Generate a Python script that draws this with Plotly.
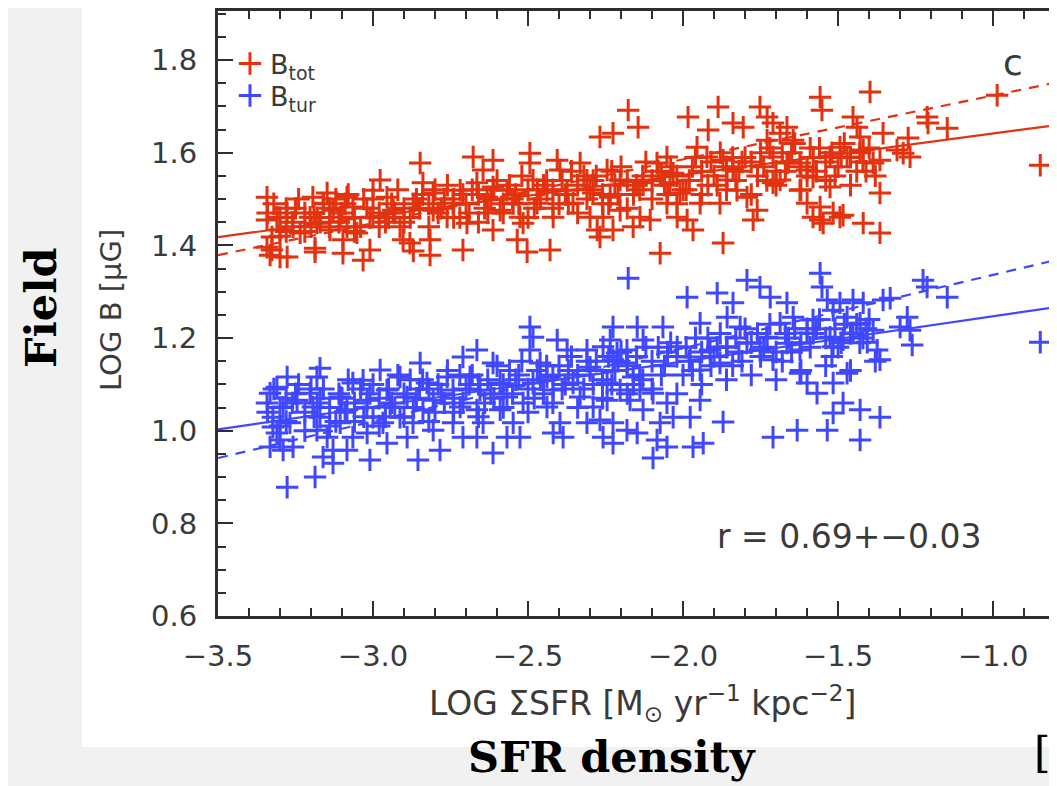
import plotly.graph_objects as go

# ---------------- data ----------------
red_points = [
    (-3.342, 1.504), (-3.310, 1.461), (-3.342, 1.455), (-3.277, 1.470), (-3.258, 1.440),
    (-3.326, 1.418), (-3.300, 1.433), (-3.326, 1.390), (-3.300, 1.375), (-3.277, 1.375),
    (-3.342, 1.396), (-3.194, 1.504), (-3.161, 1.491), (-3.203, 1.461), (-3.181, 1.448),
    (-3.129, 1.476), (-3.106, 1.461), (-3.084, 1.504), (-3.065, 1.483), (-3.148, 1.513),
    (-3.235, 1.427), (-3.187, 1.394), (-3.139, 1.433), (-3.097, 1.412), (-3.084, 1.440),
    (-3.032, 1.368), (-3.010, 1.390), (-3.052, 1.427), (-3.000, 1.519), (-2.977, 1.541),
    (-2.955, 1.504), (-2.935, 1.476), (-3.000, 1.461), (-2.913, 1.440), (-2.903, 1.412),
    (-2.881, 1.405), (-2.848, 1.578), (-2.839, 1.535), (-2.806, 1.513), (-2.806, 1.476),
    (-2.816, 1.412), (-2.761, 1.461), (-2.719, 1.519), (-2.742, 1.491), (-2.710, 1.390),
    (-2.697, 1.448), (-2.677, 1.591), (-2.645, 1.563), (-2.665, 1.535), (-2.632, 1.504),
    (-2.613, 1.526), (-2.590, 1.476), (-2.613, 1.433), (-2.613, 1.584), (-2.568, 1.519),
    (-2.548, 1.491), (-2.526, 1.461), (-2.535, 1.412), (-2.494, 1.599), (-2.494, 1.578),
    (-2.484, 1.541), (-2.516, 1.448), (-2.471, 1.491), (-2.439, 1.519), (-2.429, 1.390),
    (-2.419, 1.461), (-2.406, 1.584), (-2.397, 1.563), (-2.374, 1.519), (-2.355, 1.491),
    (-2.332, 1.578), (-2.310, 1.541), (-2.290, 1.513), (-2.300, 1.461), (-2.277, 1.433),
    (-3.332, 1.379), (-3.187, 1.386), (-3.097, 1.383), (-2.870, 1.388), (-2.816, 1.379),
    (-2.503, 1.386),
    (-2.268, 1.634), (-2.226, 1.642), (-2.177, 1.692), (-2.145, 1.655), (-2.245, 1.563),
    (-2.203, 1.541), (-2.235, 1.504), (-2.258, 1.461), (-2.203, 1.476), (-2.226, 1.433),
    (-2.268, 1.418), (-2.139, 1.461), (-2.161, 1.440), (-2.106, 1.455), (-2.074, 1.383),
    (-2.129, 1.535), (-2.084, 1.578), (-2.052, 1.591), (-2.032, 1.556), (-2.042, 1.535),
    (-2.010, 1.513), (-2.052, 1.491), (-2.019, 1.461), (-1.987, 1.455), (-1.968, 1.433),
    (-1.945, 1.491), (-1.984, 1.677), (-1.919, 1.649), (-1.887, 1.699), (-1.955, 1.612),
    (-1.923, 1.591), (-1.871, 1.584), (-1.839, 1.563), (-1.839, 1.664), (-1.806, 1.655),
    (-1.858, 1.541), (-1.881, 1.491), (-1.826, 1.519), (-1.794, 1.504), (-1.761, 1.476),
    (-1.774, 1.455), (-1.871, 1.405), (-1.752, 1.699), (-1.729, 1.677), (-1.710, 1.664),
    (-1.687, 1.642), (-1.665, 1.655), (-1.645, 1.627), (-1.729, 1.627), (-1.710, 1.591),
    (-1.665, 1.578), (-1.687, 1.541), (-1.710, 1.535), (-1.623, 1.578), (-1.600, 1.563),
    (-1.623, 1.519), (-1.581, 1.547), (-1.600, 1.491), (-1.581, 1.461), (-1.558, 1.483),
    (-1.558, 1.455), (-1.526, 1.526), (-1.494, 1.461), (-1.548, 1.448), (-1.516, 1.470),
    (-1.484, 1.465), (-1.558, 1.720), (-1.552, 1.692), (-1.526, 1.591), (-1.494, 1.612),
    (-1.471, 1.591), (-1.452, 1.677), (-1.439, 1.655), (-1.429, 1.634), (-1.419, 1.606),
    (-1.419, 1.448), (-1.397, 1.731), (-1.387, 1.578), (-1.365, 1.584), (-1.355, 1.642),
    (-1.365, 1.513), (-1.365, 1.427), (-1.310, 1.606), (-1.290, 1.599), (-1.274, 1.632),
    (-1.268, 1.591), (-1.213, 1.677), (-1.210, 1.664), (-1.148, 1.653), (-0.987, 1.724),
    (-0.848, 1.573),
    (-3.30, 1.46), (-3.26, 1.45), (-3.22, 1.47), (-3.18, 1.46), (-3.14, 1.48), (-3.10, 1.47),
    (-3.06, 1.46), (-3.02, 1.48), (-2.98, 1.47), (-2.94, 1.49), (-2.90, 1.48), (-2.86, 1.50),
    (-2.82, 1.49), (-2.78, 1.48), (-2.74, 1.50), (-2.70, 1.49), (-2.66, 1.51), (-2.62, 1.50),
    (-2.58, 1.49), (-2.54, 1.51), (-2.50, 1.52), (-2.46, 1.50), (-2.42, 1.52), (-2.38, 1.51),
    (-2.34, 1.53), (-2.30, 1.52), (-2.26, 1.51), (-2.22, 1.53), (-2.18, 1.54), (-2.14, 1.52),
    (-2.10, 1.54), (-2.06, 1.53), (-2.02, 1.55), (-1.98, 1.54), (-1.94, 1.56), (-1.90, 1.55),
    (-1.86, 1.57), (-1.82, 1.56), (-1.78, 1.58), (-1.74, 1.57), (-1.70, 1.56), (-1.66, 1.58),
    (-1.62, 1.57), (-1.58, 1.59), (-1.54, 1.58), (-1.50, 1.57), (-1.46, 1.59), (-1.42, 1.58),
    (-3.28, 1.43), (-3.20, 1.44), (-3.12, 1.50), (-3.04, 1.44), (-2.96, 1.45), (-2.88, 1.46),
    (-2.80, 1.52), (-2.72, 1.46), (-2.64, 1.48), (-2.56, 1.53), (-2.48, 1.48), (-2.40, 1.49),
    (-2.32, 1.55), (-2.24, 1.49), (-2.16, 1.51), (-2.08, 1.56), (-2.00, 1.52), (-1.92, 1.53),
    (-1.84, 1.59), (-1.76, 1.55), (-1.68, 1.60), (-1.60, 1.55), (-1.52, 1.60), (-1.44, 1.56),
    (-3.32, 1.49), (-3.24, 1.50), (-3.16, 1.49), (-3.08, 1.51), (-3.00, 1.50), (-2.92, 1.52),
    (-2.84, 1.51), (-2.76, 1.53), (-2.68, 1.52), (-2.60, 1.54), (-2.52, 1.55), (-2.44, 1.54),
    (-2.36, 1.56), (-2.28, 1.55), (-2.20, 1.57), (-2.12, 1.58), (-2.04, 1.57), (-1.96, 1.59),
    (-1.88, 1.60), (-1.80, 1.59), (-1.72, 1.61), (-1.64, 1.62), (-1.56, 1.61), (-1.48, 1.62),
    (-1.40, 1.61),
    (-3.30, 1.42), (-3.22, 1.43), (-3.14, 1.44), (-3.06, 1.43), (-2.98, 1.44), (-2.90, 1.45),
    (-2.82, 1.44), (-2.74, 1.46), (-2.66, 1.45), (-2.58, 1.47), (-2.50, 1.46), (-2.42, 1.48),
    (-2.34, 1.47), (-2.26, 1.49), (-2.18, 1.48), (-2.10, 1.50), (-2.02, 1.49), (-1.94, 1.51),
    (-1.86, 1.52), (-1.78, 1.51), (-1.70, 1.53), (-1.62, 1.52), (-1.54, 1.54), (-1.46, 1.53),
    (-1.38, 1.55),
    (-3.34, 1.47), (-3.25, 1.48), (-3.17, 1.45), (-3.09, 1.49), (-3.01, 1.46), (-2.93, 1.47),
    (-2.85, 1.48), (-2.77, 1.50), (-2.69, 1.47), (-2.61, 1.52), (-2.53, 1.49), (-2.45, 1.53),
    (-2.37, 1.49), (-2.29, 1.54), (-2.21, 1.51), (-2.13, 1.55), (-2.05, 1.51), (-1.97, 1.57),
    (-1.89, 1.53), (-1.81, 1.58), (-1.73, 1.54), (-1.65, 1.60), (-1.57, 1.56), (-1.49, 1.59),
    (-1.41, 1.56),
    (-3.28, 1.48), (-3.19, 1.47), (-3.11, 1.45), (-3.03, 1.50), (-2.95, 1.46), (-2.87, 1.49),
    (-2.79, 1.47), (-2.71, 1.51), (-2.63, 1.47), (-2.55, 1.50), (-2.47, 1.52), (-2.39, 1.54),
    (-2.31, 1.50), (-2.23, 1.56), (-2.15, 1.53), (-2.07, 1.55), (-1.99, 1.52), (-1.91, 1.58),
    (-1.83, 1.54), (-1.75, 1.60), (-1.67, 1.56), (-1.59, 1.61), (-1.51, 1.55), (-1.43, 1.60),
]

blue_points = [
    (-3.332, 1.081), (-3.310, 1.094), (-3.277, 1.116), (-3.342, 1.060), (-3.323, 1.029),
    (-3.290, 1.051), (-3.245, 1.066), (-3.268, 1.017), (-3.323, 1.008), (-3.300, 0.980),
    (-3.332, 0.965), (-3.290, 0.958), (-3.258, 0.965), (-3.310, 0.995), (-3.277, 0.878),
    (-3.187, 0.900), (-3.181, 1.116), (-3.171, 1.135), (-3.203, 1.081), (-3.194, 1.051),
    (-3.171, 1.029), (-3.181, 1.001), (-3.148, 0.986), (-3.129, 0.958), (-3.161, 0.943),
    (-3.129, 0.930), (-3.106, 1.073), (-3.084, 1.045), (-3.065, 1.103), (-3.106, 1.017),
    (-3.065, 0.986), (-3.084, 0.958), (-3.032, 1.109), (-3.019, 1.066), (-3.000, 1.029),
    (-3.019, 0.995), (-3.010, 0.937), (-2.977, 1.131), (-2.955, 1.088), (-2.945, 1.051),
    (-2.968, 1.017), (-2.955, 0.973), (-2.913, 1.116), (-2.890, 1.073), (-2.913, 1.029),
    (-2.871, 1.017), (-2.890, 0.986), (-2.855, 0.937), (-2.848, 1.146), (-2.826, 1.103),
    (-2.806, 1.066), (-2.839, 1.045), (-2.806, 1.001), (-2.784, 0.958), (-2.761, 1.116),
    (-2.742, 1.088), (-2.719, 1.051), (-2.742, 1.017), (-2.710, 0.986), (-2.710, 1.159),
    (-2.665, 1.174), (-2.687, 1.116), (-2.655, 1.088), (-2.665, 1.045), (-2.645, 1.017),
    (-2.665, 0.986), (-2.613, 0.952), (-2.613, 1.146), (-2.590, 1.103), (-2.568, 1.073),
    (-2.590, 1.045), (-2.548, 1.017), (-2.568, 0.986), (-2.526, 0.986), (-2.516, 1.060),
    (-2.494, 1.224), (-2.484, 1.202), (-2.494, 1.174), (-2.461, 1.146), (-2.484, 1.103),
    (-2.439, 1.116), (-2.419, 1.088), (-2.439, 1.051), (-2.406, 1.196), (-2.374, 1.174),
    (-2.397, 1.017), (-2.419, 0.995), (-2.387, 0.986), (-2.355, 1.103), (-2.332, 1.073),
    (-2.310, 1.174), (-2.300, 1.137), (-2.290, 1.051), (-2.310, 1.017), (-2.268, 1.023),
    (-2.258, 0.986), (-2.226, 0.973), (-2.235, 1.196), (-2.226, 1.224), (-2.148, 1.224),
    (-2.213, 1.168), (-2.181, 1.146), (-2.161, 1.116), (-2.139, 1.088), (-2.171, 1.066),
    (-2.129, 1.045), (-2.148, 0.995), (-2.177, 1.329),
    (-2.258, 1.181), (-2.226, 1.153), (-2.181, 1.174), (-2.129, 1.196), (-2.245, 1.103),
    (-2.203, 1.088), (-2.245, 1.066), (-2.226, 1.017), (-2.181, 1.001), (-2.097, 1.081),
    (-2.052, 1.060), (-2.032, 1.029), (-2.074, 1.017), (-2.084, 0.980), (-2.052, 0.965),
    (-2.097, 0.941), (-1.968, 0.965), (-1.935, 0.973), (-1.871, 1.019), (-1.977, 1.029),
    (-1.945, 1.066), (-2.065, 1.224), (-1.987, 1.288), (-1.890, 1.297), (-1.945, 1.232),
    (-2.019, 1.181), (-1.977, 1.159), (-1.913, 1.174), (-1.881, 1.146), (-1.945, 1.131),
    (-1.858, 1.181), (-1.839, 1.276), (-1.858, 1.245), (-1.816, 1.224), (-1.794, 1.325),
    (-1.752, 1.310), (-1.719, 1.288), (-1.794, 1.189), (-1.752, 1.174), (-1.729, 1.202),
    (-1.687, 1.232), (-1.710, 1.153), (-1.665, 1.276), (-1.645, 1.245), (-1.665, 1.189),
    (-1.623, 1.174), (-1.600, 1.211), (-1.581, 1.239), (-1.558, 1.340), (-1.552, 1.310),
    (-1.535, 1.282), (-1.516, 1.260), (-1.494, 1.276), (-1.471, 1.245), (-1.526, 1.202),
    (-1.484, 1.196), (-1.516, 1.181), (-1.623, 1.124), (-1.600, 1.103), (-1.568, 1.081),
    (-1.516, 1.103), (-1.471, 1.124), (-1.484, 1.060), (-1.516, 1.038), (-1.535, 1.001),
    (-1.429, 1.045), (-1.365, 1.029), (-1.429, 0.980), (-1.452, 1.282), (-1.419, 1.276),
    (-1.355, 1.282), (-1.332, 1.286), (-1.429, 1.232), (-1.387, 1.217), (-1.374, 1.174),
    (-1.365, 1.153), (-1.452, 1.211), (-1.406, 1.191), (-1.300, 1.224), (-1.277, 1.245),
    (-1.268, 1.217), (-1.261, 1.185), (-1.226, 1.325), (-1.213, 1.310), (-1.148, 1.288),
    (-0.848, 1.191), (-1.710, 0.986), (-1.632, 1.001),
    (-3.30, 1.05), (-3.26, 1.06), (-3.22, 1.04), (-3.18, 1.06), (-3.14, 1.05), (-3.10, 1.07),
    (-3.06, 1.06), (-3.02, 1.05), (-2.98, 1.07), (-2.94, 1.06), (-2.90, 1.08), (-2.86, 1.07),
    (-2.82, 1.09), (-2.78, 1.08), (-2.74, 1.07), (-2.70, 1.09), (-2.66, 1.10), (-2.62, 1.08),
    (-2.58, 1.10), (-2.54, 1.11), (-2.50, 1.09), (-2.46, 1.11), (-2.42, 1.12), (-2.38, 1.10),
    (-2.34, 1.12), (-2.30, 1.13), (-2.26, 1.11), (-2.22, 1.13), (-2.18, 1.14), (-2.14, 1.12),
    (-2.10, 1.15), (-2.06, 1.14), (-2.02, 1.16), (-1.98, 1.15), (-1.94, 1.17), (-1.90, 1.16),
    (-1.86, 1.18), (-1.82, 1.17), (-1.78, 1.19), (-1.74, 1.18), (-1.70, 1.17), (-1.66, 1.20),
    (-1.62, 1.19), (-1.58, 1.21), (-1.54, 1.20), (-1.50, 1.18), (-1.46, 1.21), (-1.42, 1.20),
    (-3.28, 1.02), (-3.20, 1.09), (-3.12, 1.02), (-3.04, 1.09), (-2.96, 1.03), (-2.88, 1.11),
    (-2.80, 1.04), (-2.72, 1.12), (-2.64, 1.06), (-2.56, 1.13), (-2.48, 1.07), (-2.40, 1.14),
    (-2.32, 1.09), (-2.24, 1.16), (-2.16, 1.10), (-2.08, 1.18), (-2.00, 1.12), (-1.92, 1.20),
    (-1.84, 1.14), (-1.76, 1.21), (-1.68, 1.15), (-1.60, 1.22), (-1.52, 1.16), (-1.44, 1.23),
    (-3.32, 1.09), (-3.24, 1.10), (-3.16, 1.09), (-3.08, 1.11), (-3.00, 1.10), (-2.92, 1.12),
    (-2.84, 1.11), (-2.76, 1.13), (-2.68, 1.12), (-2.60, 1.14), (-2.52, 1.15), (-2.44, 1.14),
    (-2.36, 1.16), (-2.28, 1.15), (-2.20, 1.17), (-2.12, 1.18), (-2.04, 1.19), (-1.96, 1.20),
    (-1.88, 1.21), (-1.80, 1.22), (-1.72, 1.23), (-1.64, 1.22), (-1.56, 1.24), (-1.48, 1.23),
    (-1.40, 1.24),
    (-3.30, 1.01), (-3.22, 1.00), (-3.14, 1.01), (-3.06, 1.02), (-2.98, 1.01), (-2.90, 1.03),
    (-2.82, 1.02), (-2.74, 1.04), (-2.66, 1.03), (-2.58, 1.05), (-2.50, 1.04), (-2.42, 1.06),
    (-2.34, 1.05), (-2.26, 1.07), (-2.18, 1.08), (-2.10, 1.09), (-2.02, 1.08), (-1.94, 1.10),
    (-1.86, 1.11), (-1.78, 1.12), (-1.70, 1.11), (-1.62, 1.13), (-1.54, 1.14), (-1.46, 1.13),
    (-1.38, 1.15),
    (-3.34, 1.04), (-3.25, 1.08), (-3.17, 1.07), (-3.09, 1.04), (-3.01, 1.08), (-2.93, 1.05),
    (-2.85, 1.09), (-2.77, 1.06), (-2.69, 1.10), (-2.61, 1.07), (-2.53, 1.12), (-2.45, 1.08),
    (-2.37, 1.13), (-2.29, 1.10), (-2.21, 1.15), (-2.13, 1.11), (-2.05, 1.17), (-1.97, 1.13),
    (-1.89, 1.18), (-1.81, 1.15), (-1.73, 1.20), (-1.65, 1.17), (-1.57, 1.22), (-1.49, 1.19),
    (-1.41, 1.22),
    (-3.28, 1.07), (-3.19, 1.03), (-3.11, 1.08), (-3.03, 1.03), (-2.95, 1.09), (-2.87, 1.05),
    (-2.79, 1.10), (-2.71, 1.06), (-2.63, 1.11), (-2.55, 1.08), (-2.47, 1.13), (-2.39, 1.09),
    (-2.31, 1.15), (-2.23, 1.10), (-2.15, 1.16), (-2.07, 1.12), (-1.99, 1.18), (-1.91, 1.14),
    (-1.83, 1.20), (-1.75, 1.16), (-1.67, 1.21), (-1.59, 1.18), (-1.51, 1.22), (-1.43, 1.19),
]

# regression lines (end points read at the axis edges)
fit_x = [-3.5, -0.794]
red_fit_solid = [1.418, 1.660]
red_fit_dashed = [1.379, 1.752]
blue_fit_solid = [1.003, 1.267]
blue_fit_dashed = [0.941, 1.369]

x_range = [-3.5, -0.794]
y_range = [0.6, 1.906]

series_names = ["B<sub>tot</sub>", "B<sub>tur</sub>"]
corr_text = "r = 0.69+−0.03"

# ---------------- styling ----------------
RED = "#e2320f"
BLUE = "#3f48ff"
AX = "#2e2e2e"
TXT = "#3a3a3a"

OFF = 8                      # page body margin of the browser
W, H = 1057 - OFF, 786 - OFF
ML, MR, MT = 218 - OFF, 0, 11 - OFF
MB = H - (616 - OFF)
PW = W - ML - MR
PH = H - MT - MB


def pxx(p):
    """page pixel x -> paper x"""
    return (p - OFF - ML) / PW


def pxy(p):
    """page pixel y -> paper y"""
    return (H - MB - (p - OFF)) / PH


red_x = [p[0] for p in red_points]
red_y = [p[1] for p in red_points]
blue_x = [p[0] for p in blue_points]
blue_y = [p[1] for p in blue_points]

fig = go.Figure()

for ys, col, dash in [
    (red_fit_solid, RED, "solid"),
    (red_fit_dashed, RED, "10px,8px"),
    (blue_fit_solid, BLUE, "solid"),
    (blue_fit_dashed, BLUE, "10px,8px"),
]:
    fig.add_trace(go.Scatter(x=fit_x, y=ys, mode="lines",
                             line=dict(color=col, width=2.2, dash=dash),
                             showlegend=False, hoverinfo="skip"))

fig.add_trace(go.Scatter(
    x=red_x, y=red_y, mode="markers", name=series_names[0], legend="legend",
    marker=dict(symbol="cross-thin", size=16, color=RED, line=dict(color=RED, width=3))))
fig.add_trace(go.Scatter(
    x=blue_x, y=blue_y, mode="markers", name=series_names[1], legend="legend2",
    marker=dict(symbol="cross-thin", size=16, color=BLUE, line=dict(color=BLUE, width=3))))

tick_font = dict(family="DejaVu Sans", size=29, color=TXT)

fig.update_layout(
    width=W, height=H,
    margin=dict(l=ML, r=MR, t=MT, b=MB, pad=0),
    paper_bgcolor="#f1f1f1",
    plot_bgcolor="white",
    xaxis=dict(
        range=x_range, tickmode="linear", tick0=-3.5, dtick=0.5, tickformat=".1f",
        ticks="inside", ticklen=15, tickwidth=2, tickcolor=AX,
        showline=True, linewidth=3, linecolor=AX, mirror="ticks",
        showgrid=False, zeroline=False, tickfont=tick_font, ticklabelstandoff=12,
        minor=dict(tick0=-3.5, dtick=0.1, ticks="inside", ticklen=8, tickwidth=2,
                   tickcolor=AX, showgrid=False),
    ),
    yaxis=dict(
        range=y_range, tickmode="linear", tick0=0.6, dtick=0.2, tickformat=".1f",
        ticks="inside", ticklen=15, tickwidth=2, tickcolor=AX,
        showline=True, linewidth=3, linecolor=AX, mirror=False,
        showgrid=False, zeroline=False, tickfont=tick_font, ticklabelstandoff=12,
        minor=dict(tick0=0.6, dtick=0.05, ticks="inside", ticklen=8, tickwidth=2,
                   tickcolor=AX, showgrid=False),
    ),
    yaxis2=dict(
        range=y_range, overlaying="y", side="right", anchor="x",
        tickmode="linear", tick0=0.6, dtick=0.2,
        ticks="inside", ticklen=15, tickwidth=2, tickcolor=AX,
        showticklabels=False, showline=False, showgrid=False, zeroline=False,
        minor=dict(tick0=0.6, dtick=0.05, ticks="inside", ticklen=8, tickwidth=2,
                   tickcolor=AX, showgrid=False),
    ),
    legend=dict(x=pxx(230), y=pxy(64), xanchor="left", yanchor="middle",
                font=dict(family="DejaVu Sans", size=27, color=TXT),
                bgcolor="rgba(0,0,0,0)", itemwidth=30),
    legend2=dict(x=pxx(230), y=pxy(96), xanchor="left", yanchor="middle",
                 font=dict(family="DejaVu Sans", size=27, color=TXT),
                 bgcolor="rgba(0,0,0,0)", itemwidth=30),
    showlegend=True,
    shapes=[dict(type="rect", xref="paper", yref="paper",
                 x0=pxx(82), x1=pxx(1070), y0=pxy(747), y1=pxy(-5),
                 fillcolor="white", line=dict(width=0), layer="below")],
)

annotations = [
    dict(text="LOG B [μG]", x=pxx(111), y=pxy(310), textangle=-90,
         font=dict(family="DejaVu Sans", size=29, color=TXT)),
    dict(text="LOG ΣSFR [M<sub>⊙</sub> yr<sup>−1</sup> kpc<sup>−2</sup>]",
         x=pxx(642), y=pxy(703),
         font=dict(family="DejaVu Sans", size=33, color=TXT)),
    dict(text=corr_text, x=pxx(849), y=pxy(536),
         font=dict(family="DejaVu Sans", size=33, color=TXT)),
    dict(text="c", x=pxx(1013), y=pxy(62),
         font=dict(family="DejaVu Sans", size=36, color=TXT)),
    dict(text="<b>Field</b>", x=pxx(41), y=pxy(308), textangle=-90,
         font=dict(family="DejaVu Serif", size=43, color="black")),
    dict(text="<b>SFR density</b>", x=pxx(612), y=pxy(757),
         font=dict(family="DejaVu Serif", size=43, color="black")),
    dict(text="[T", x=pxx(1032), y=pxy(752), xanchor="left",
         font=dict(family="DejaVu Serif", size=42, color="black")),
]
for a in annotations:
    a.setdefault("xref", "paper")
    a.setdefault("yref", "paper")
    a.setdefault("showarrow", False)
    a.setdefault("xanchor", "center")
    a.setdefault("yanchor", "middle")
    fig.add_annotation(**a)

fig.write_html("out.html")
